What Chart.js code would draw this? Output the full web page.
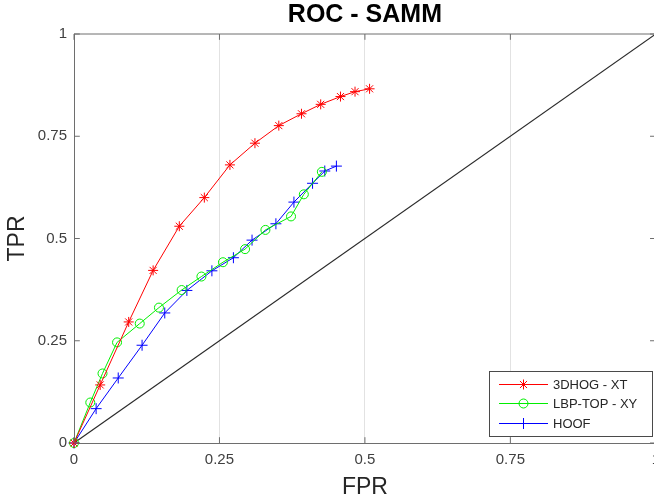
<!DOCTYPE html>
<html><head><meta charset="utf-8">
<script src="https://cdn.jsdelivr.net/npm/chart.js@4/dist/chart.umd.min.js"></script>
<style>
html,body{margin:0;padding:0;overflow:hidden;background:#fff;width:654px;height:502px}
#wrap{position:absolute;left:0;top:0;width:668px;height:502px}
</style>
</head><body><div id="wrap"><canvas id="c" width="668" height="502"></canvas></div>
<script>
const chartTitle = 'ROC - SAMM';
const xAxisTitle = 'FPR';
const yAxisTitle = 'TPR';
const seriesNames = ['3DHOG - XT', 'LBP-TOP - XY', 'HOOF'];
const hogFPR = [0, 0.045, 0.094, 0.136, 0.181, 0.224, 0.268, 0.311, 0.352, 0.391, 0.424, 0.458, 0.483, 0.508];
const hogTPR = [0, 0.142, 0.296, 0.422, 0.530, 0.600, 0.680, 0.733, 0.776, 0.805, 0.828, 0.847, 0.859, 0.866];
const lbpFPR = [0, 0.028, 0.049, 0.074, 0.113, 0.146, 0.185, 0.219, 0.256, 0.294, 0.329, 0.373, 0.395, 0.426];
const lbpTPR = [0, 0.099, 0.170, 0.246, 0.292, 0.331, 0.374, 0.407, 0.442, 0.474, 0.521, 0.554, 0.608, 0.663];
const hoofFPR = [0, 0.038, 0.076, 0.117, 0.156, 0.194, 0.237, 0.274, 0.306, 0.347, 0.378, 0.410, 0.431, 0.451];
const hoofTPR = [0, 0.084, 0.159, 0.239, 0.318, 0.373, 0.421, 0.453, 0.496, 0.536, 0.589, 0.635, 0.665, 0.677];
const chanceFPR = [0, 1];
const chanceTPR = [0, 1];
const tickValues = [0, 0.25, 0.5, 0.75, 1];
const xTickLabels = ['0', '0.25', '0.5', '0.75', '1'];
const yTickLabels = ['0', '0.25', '0.5', '0.75', '1'];

const FONT = "'Liberation Sans', Arial, Helvetica, sans-serif";
const AXIS = '#6e6e6e';
const TICKTXT = '#404040';

function pts(xs, ys) { return xs.map((x, i) => ({x: x, y: ys[i]})); }

const styles = [
  {color: '#ff0000', pointStyle: 'star', radius: 5},
  {color: '#00ee00', pointStyle: 'circle', radius: 4.5},
  {color: '#0000ff', pointStyle: 'cross', radius: 5.5}
];

function drawMarker(ctx, style, x, y) {
  const r = style.radius;
  ctx.save();
  ctx.strokeStyle = style.color;
  ctx.lineWidth = 1;
  ctx.beginPath();
  if (style.pointStyle === 'circle') {
    ctx.arc(x, y, r, 0, Math.PI * 2);
  } else if (style.pointStyle === 'cross') {
    ctx.moveTo(x - r, y); ctx.lineTo(x + r, y);
    ctx.moveTo(x, y - r); ctx.lineTo(x, y + r);
  } else {
    ctx.moveTo(x - r, y); ctx.lineTo(x + r, y);
    ctx.moveTo(x, y - r); ctx.lineTo(x, y + r);
    const d = r * 0.7071;
    ctx.moveTo(x - d, y - d); ctx.lineTo(x + d, y + d);
    ctx.moveTo(x - d, y + d); ctx.lineTo(x + d, y - d);
  }
  ctx.stroke();
  ctx.restore();
}

const framePlugin = {
  id: 'frame',
  afterDatasetsDraw(chart) {
    const ctx = chart.ctx, a = chart.chartArea;
    const xs = chart.scales.x, ys = chart.scales.y;
    ctx.save();
    ctx.strokeStyle = AXIS;
    ctx.lineWidth = 1;
    ctx.beginPath();
    ctx.moveTo(a.left, a.top); ctx.lineTo(a.right, a.top);
    ctx.moveTo(a.right, a.top); ctx.lineTo(a.right, a.bottom);
    const tl = 5.8;
    tickValues.forEach(v => {
      const px = xs.getPixelForValue(v);
      ctx.moveTo(px, a.bottom); ctx.lineTo(px, a.bottom - tl);
      ctx.moveTo(px, a.top); ctx.lineTo(px, a.top + tl);
      const py = ys.getPixelForValue(v);
      ctx.moveTo(a.left, py); ctx.lineTo(a.left + tl, py);
      ctx.moveTo(a.right, py); ctx.lineTo(a.right - tl, py);
    });
    ctx.stroke();
    ctx.restore();
  },
  afterDraw(chart) {
    const ctx = chart.ctx;
    const lx = 489.5, ly = 371.5, lw = 163, lh = 65;
    ctx.save();
    ctx.fillStyle = '#fff';
    ctx.fillRect(lx, ly, lw, lh);
    ctx.strokeStyle = '#4a4a4a';
    ctx.lineWidth = 1;
    ctx.strokeRect(lx, ly, lw, lh);
    const rows = [384.5, 403.5, 423.5];
    ctx.font = '13px ' + FONT;
    ctx.textBaseline = 'middle';
    ctx.textAlign = 'left';
    seriesNames.forEach((name, i) => {
      const st = styles[i], y = rows[i];
      ctx.strokeStyle = st.color;
      ctx.lineWidth = 1;
      ctx.beginPath();
      ctx.moveTo(499, y); ctx.lineTo(548, y);
      ctx.stroke();
      drawMarker(ctx, st, 523.5, y);
      ctx.fillStyle = '#262626';
      ctx.fillText(name, 553, y + 0.5);
    });
    ctx.restore();
  }
};

function series(i, xs, ys) {
  const st = styles[i];
  return {
    label: seriesNames[i],
    data: pts(xs, ys),
    borderColor: st.color,
    backgroundColor: 'rgba(0,0,0,0)',
    borderWidth: 1,
    pointStyle: st.pointStyle,
    pointRadius: st.radius,
    pointHoverRadius: st.radius,
    pointBorderColor: st.color,
    pointBackgroundColor: 'rgba(0,0,0,0)',
    pointBorderWidth: 1,
    tension: 0,
    fill: false,
    clip: false
  };
}

new Chart(document.getElementById('c'), {
  type: 'line',
  data: {
    datasets: [
      series(0, hogFPR, hogTPR),
      series(1, lbpFPR, lbpTPR),
      series(2, hoofFPR, hoofTPR),
      {
        label: 'chance',
        data: pts(chanceFPR, chanceTPR),
        borderColor: '#2a2a2a',
        borderWidth: 1.2,
        pointRadius: 0,
        fill: false,
        clip: true
      }
    ]
  },
  plugins: [framePlugin],
  options: {
    responsive: false,
    animation: false,
    devicePixelRatio: 1,
    layout: {padding: {left: 0, right: 5.3, top: 0, bottom: 0}},
    plugins: {
      legend: {display: false},
      tooltip: {enabled: false},
      title: {
        display: true,
        text: chartTitle,
        fullSize: false,
        color: '#000',
        font: {family: FONT, size: 25, weight: 'bold'},
        padding: {top: 0.5, bottom: 3.5}
      }
    },
    scales: {
      x: {
        type: 'linear',
        min: 0, max: 1,
        afterFit(s) { s.height = 59; },
        afterBuildTicks(s) { s.ticks = tickValues.map(v => ({value: v})); },
        ticks: {
          autoSkip: false,
          maxRotation: 0,
          padding: 8,
          color: TICKTXT,
          font: {family: FONT, size: 15},
          callback: (v) => xTickLabels[tickValues.indexOf(v)]
        },
        grid: {
          drawTicks: false,
          lineWidth: 1,
          color: (c) => (c.tick && c.tick.value > 0 && c.tick.value < 1) ? '#e2e2e2' : 'rgba(0,0,0,0)'
        },
        border: {display: true, color: AXIS, width: 1},
        title: {
          display: true,
          text: xAxisTitle,
          color: '#262626',
          font: {family: FONT, size: 23},
          padding: {top: 0, bottom: 0.8}
        }
      },
      y: {
        type: 'linear',
        min: 0, max: 1,
        afterFit(s) { s.width = 74; },
        afterBuildTicks(s) { s.ticks = tickValues.map(v => ({value: v})); },
        ticks: {
          autoSkip: false,
          padding: 7,
          color: TICKTXT,
          font: {family: FONT, size: 15},
          callback: (v) => yTickLabels[tickValues.indexOf(v)]
        },
        grid: {display: false, drawTicks: false},
        border: {display: true, color: AXIS, width: 1},
        title: {
          display: true,
          text: yAxisTitle,
          color: '#262626',
          font: {family: FONT, size: 23},
          padding: {top: 3.7, bottom: 0}
        }
      }
    }
  }
});
</script>
</body></html>
